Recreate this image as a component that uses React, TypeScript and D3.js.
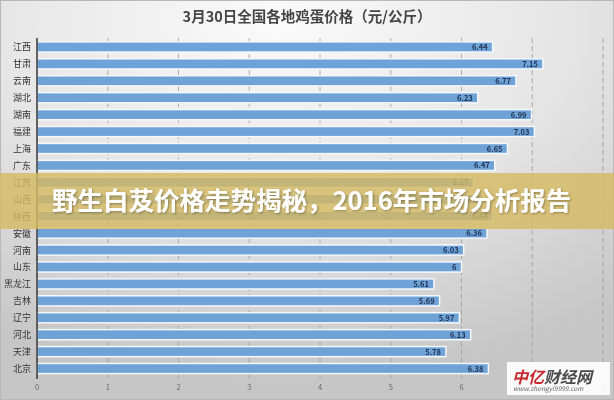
import React from "react";
import * as d3 from "d3";

const categories = ["江西", "甘肃", "云南", "湖北", "湖南", "福建", "上海", "广东", "江苏", "山西", "陕西", "安徽", "河南", "山东", "黑龙江", "吉林", "辽宁", "河北", "天津", "北京"];
const values = [6.44, 7.15, 6.77, 6.23, 6.99, 7.03, 6.65, 6.47, 6.17, 6.3, 6.44, 6.36, 6.03, 6, 5.61, 5.69, 5.97, 6.13, 5.78, 6.38];
const xTicks = [0, 1, 2, 3, 4, 5, 6, 7, 8];
const title = "3月30日全国各地鸡蛋价格（元/公斤）";
const banner = "野生白芨价格走势揭秘，2016年市场分析报告";

const W = 614, H = 400;
const FONT = "'Noto Sans CJK SC', 'Noto Sans', sans-serif";

export default function App() {
  const x = d3.scaleLinear().domain([0, 8]).range([37, 603]);
  const y = d3.scaleBand().domain(categories).range([38.5, 377]).paddingInner(0.4).paddingOuter(0.2);
  const bw = y.bandwidth();
  return (
    <svg width={W} height={H} style={{ position: "fixed", left: 0, top: 0 }} fontFamily={FONT}>
      <defs>
        <radialGradient id="bg" cx="0.45" cy="0.05" r="0.9" fx="0.45" fy="0.05">
          <stop offset="0" stopColor="#fbfbfb" />
          <stop offset="0.55" stopColor="#e4e4e4" />
          <stop offset="1" stopColor="#c6c6c6" />
        </radialGradient>
        <filter id="sh" x="-5%" y="-20%" width="110%" height="140%">
          <feDropShadow dx="1" dy="1" stdDeviation="1" floodColor="#000" floodOpacity="0.35" />
        </filter>
      </defs>
      <rect x={0} y={0} width={W} height={H} fill="url(#bg)" />
      <rect x={0.5} y={0.5} width={W - 1} height={H - 1} fill="none" stroke="#b8b8b8" />
      <text x={307} y={22} textAnchor="middle" fontSize={14.5} fontWeight={700} fill="#454545">{title}</text>
      {xTicks.slice(1).map((t) => (
        <line key={"g" + t} x1={x(t)} x2={x(t)} y1={38} y2={378} stroke="#9a9a9a" strokeWidth={0.8} strokeDasharray="5,3" />
      ))}
      {categories.map((c, i) => (
        <g key={c}>
          <rect x={x(0)} y={y(c)!} width={x(values[i]) - x(0)} height={bw} fill="#6fa3d8" stroke="#f4f7fb" strokeWidth={1.5} />
          <text x={x(values[i]) - 5} y={y(c)! + bw / 2 + 3} textAnchor="end" fontSize={7.5} fontWeight={700} fill="#1f3050">{String(values[i])}</text>
          <text x={31} y={y(c)! + bw / 2 + 3.5} textAnchor="end" fontSize={9} fill="#333">{c}</text>
        </g>
      ))}
      <line x1={37} x2={37} y1={38} y2={379} stroke="#333" strokeWidth={1.5} />
      {xTicks.map((t) => (
        <text key={"t" + t} x={x(t)} y={390} textAnchor="middle" fontSize={7.5} fill="#666">{t}</text>
      ))}
      <rect x={0} y={173} width={W} height={56} fill="rgb(214,186,98)" opacity={0.82} />
      <text x={52} y={210} fontSize={25.5} fontWeight={700} fill="#fff" filter="url(#sh)">{banner}</text>
      <rect x={507} y={362} width={103} height={33} fill="#fff" opacity={0.9} />
      <text x={512} y={383} fontSize={16} fontWeight={700} fontStyle="italic" fill="#c7282e">中亿<tspan fill="#4a4a4a">财经网</tspan></text>
      <text x={513} y={391} fontSize={6.5} fill="#666" fontStyle="italic">www.zhongyi9999.com</text>
    </svg>
  );
}
